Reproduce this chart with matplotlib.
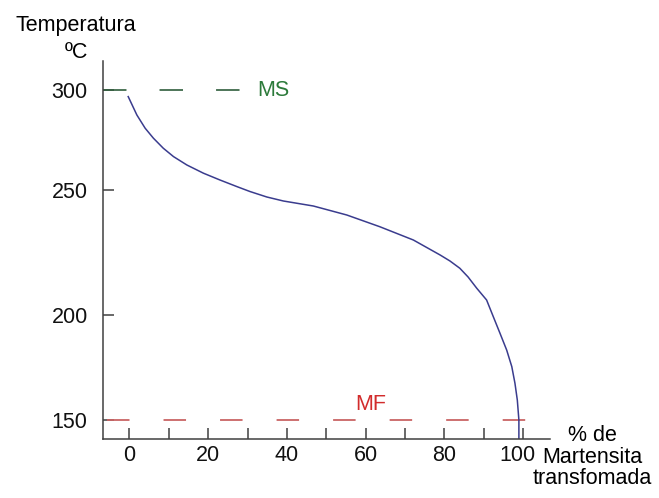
import numpy as np
import matplotlib
matplotlib.use('Agg')
import matplotlib.pyplot as plt
from matplotlib.transforms import ScaledTranslation

plt.rcParams['font.family'] = ['Liberation Sans', 'DejaVu Sans']

# curve: % martensite vs temperature (C)
martensite = [-0.3, 1.9, 4.0, 6.1, 8.6, 11.2, 14.6, 18.8, 23.0, 27.3, 30.6,
              34.9, 39.1, 46.7, 55.2, 63.6, 72.1, 78.9, 81.4, 83.9, 86.0,
              88.2, 90.7, 92.4, 94.1, 95.8, 97.1, 97.9, 98.5, 98.9, 98.9]
temperature = [296.7, 287.5, 280.9, 275.9, 270.9, 266.7, 262.5, 258.4, 255,
               251.7, 249.4, 247.2, 245.6, 243.6, 240, 235.3, 230, 224, 221.6,
               218.7, 215.2, 210.7, 206, 199.2, 191.3, 183.3, 175.4, 167.5,
               159.5, 150, 141]

ms_temp = 300
mf_temp = 150
x_major = [0, 20, 40, 60, 80, 100]
x_minor = [10, 30, 50, 70, 90]
y_ticks = [150, 200, 250, 300]

# the drawing has unevenly spaced temperature ticks -> piecewise axis scale
knot_t = [141, 150, 200, 250, 300, 314.5]
knot_p = [0, 19, 124, 249, 349, 378]


def fwd(t):
    return np.interp(t, knot_t, knot_p)


def inv(p):
    return np.interp(p, knot_p, knot_t)


fig = plt.figure(figsize=(6.59, 4.98), dpi=100)
ax = fig.add_axes([0.1563, 0.1185, 0.6783, 0.759])
ax.set_yscale('function', functions=(fwd, inv))
ax.set_xlim(-6.7, 106.8)
ax.set_ylim(141, 314.5)

axis_col = '#404040'
for s in ['top', 'right']:
    ax.spines[s].set_visible(False)
for s in ['left', 'bottom']:
    ax.spines[s].set_color(axis_col)
    ax.spines[s].set_linewidth(1.1)

# MS / MF dashed reference lines
ax.plot([-6.7, 28.9], [ms_temp, ms_temp], color='#2f5e3c', lw=1.2,
        linestyle=(0, (16.9 / 1.2, 23.8 / 1.2)))
ax.plot([-5.6, 102], [mf_temp, mf_temp], color='#c96464', lw=1.3,
        linestyle=(0, (16.2 / 1.3, 24.5 / 1.3)))

ax.plot(martensite, temperature, color='#3a3c8e', lw=1.1)

fs = 15.5
ax.text(32.4, ms_temp, 'MS', color='#2c7a3a', fontsize=fs, ha='left', va='center')
ax.text(61.2, 157.6, 'MF', color='#d22c2c', fontsize=fs, ha='center', va='center')

ax.set_xticks(x_major)
ax.set_xticks(x_minor, minor=True)
ax.set_yticks(y_ticks)
ax.yaxis.set_minor_locator(matplotlib.ticker.NullLocator())
ax.set_yticklabels([str(v) for v in y_ticks])
ax.tick_params(axis='both', which='both', direction='in', length=8, width=1.1,
               color=axis_col, labelsize=fs, labelcolor='#111111')
ax.tick_params(axis='x', pad=4)
ax.tick_params(axis='y', pad=11)

# the "100" label sits a little left of its tick in the original
lab = ax.xaxis.get_major_ticks()[-1].label1
lab.set_transform(lab.get_transform() + ScaledTranslation(-6 / 100, 0, fig.dpi_scale_trans))

fig.text(76 / 659, 1 - 25 / 498, 'Temperatura', fontsize=fs, ha='center', va='center')
fig.text(76 / 659, 1 - 52 / 498, 'ºC', fontsize=fs, ha='center', va='center')
fig.text(592 / 659, 1 - 457 / 498, '% de\nMartensita\ntransfomada', fontsize=fs,
         ha='center', va='center', multialignment='center', linespacing=1.05)

fig.savefig('out.png', dpi=100)
